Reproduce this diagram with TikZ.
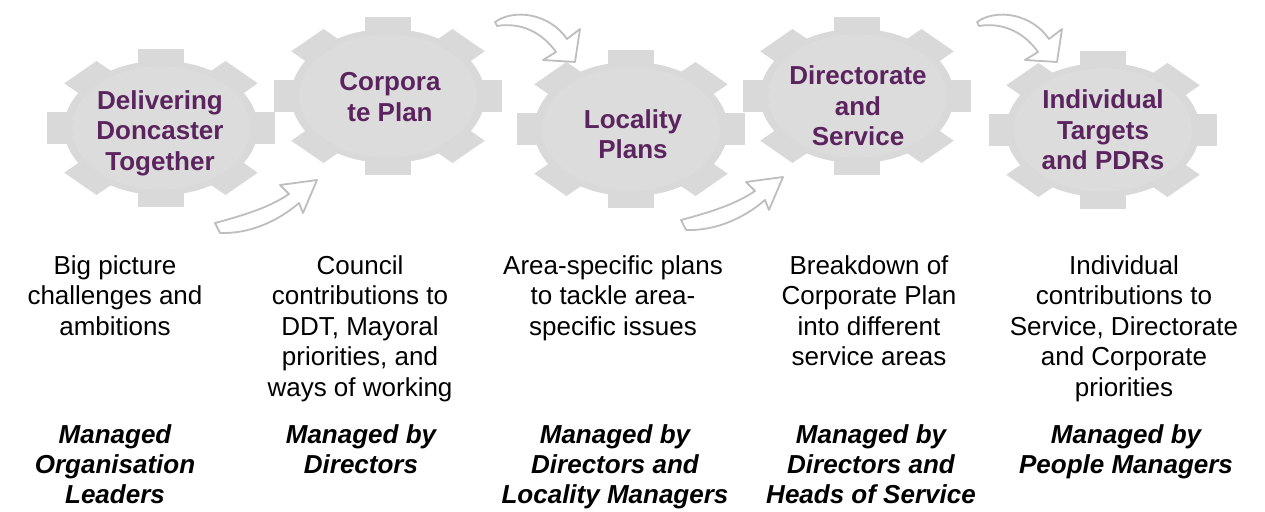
\documentclass[tikz,border=0pt]{standalone}
\usepackage{fontspec}
\setmainfont{Liberation Sans}
\definecolor{gearouter}{RGB}{217,217,217}
\definecolor{gearinner}{RGB}{220,220,220}
\definecolor{geartext}{RGB}{91,36,94}
\definecolor{arrowline}{RGB}{190,190,190}
\tikzset{
  gearlabel/.style={font=\bfseries\fontsize{26}{30.5}\selectfont, text=geartext, align=center, inner sep=0pt},
  desc/.style={font=\fontsize{26}{30.5}\selectfont, text=black, align=center, inner sep=0pt, anchor=north},
  mgr/.style={font=\bfseries\itshape\fontsize{26}{30}\selectfont, text=black, align=center, inner sep=0pt, anchor=north},
  curvearrow/.style={draw=arrowline, fill=white, line width=1.8pt, line join=round},
  pics/gear/.style={code={
    \fill[gearouter] (0,0) circle (0.85);
    \foreach \a in {0,45,...,315}{\fill[gearouter, rotate=\a] (-0.2,0) rectangle (0.2,1);}
    \fill[gearinner] (0,0) circle (0.78);
  }}
}
\begin{document}
\begin{tikzpicture}[x=1pt,y=-1pt]
\useasboundingbox[fill=white] (0,0) rectangle (1265,511);
% gears
\pic[xscale=114,yscale=79] at (161,128) {gear};
\pic[xscale=114,yscale=79] at (388,96) {gear};
\pic[xscale=114,yscale=79] at (631,129) {gear};
\pic[xscale=114,yscale=79] at (857,96) {gear};
\pic[xscale=114,yscale=79] at (1103,130) {gear};
% gear labels
\node[gearlabel] (g1) at (160,133) {Delivering\\Doncaster\\Together};
\node[gearlabel] (g2) at (390,97) {Corpora\\te Plan};
\node[gearlabel] (g3) at (633,134) {Locality\\Plans};
\node[gearlabel] (g4) at (858,106) {Directorate\\and\\Service};
\node[gearlabel] (g5) at (1103,130) {Individual\\Targets\\and PDRs};
% curved arrows
\foreach \dx/\dy in {0/0,466/-3}{
  \begin{scope}[shift={(\dx,\dy)}]
  \draw[curvearrow] (215,223) .. controls (245,215) and (270,207) .. (289,194)
    -- (280,185) -- (317,180) -- (303,213) -- (299,203)
    .. controls (278,221) and (250,234) .. (220,233) -- cycle;
  \end{scope}
}
\foreach \dx in {0,482}{
  \begin{scope}[shift={(\dx,0)}]
  \draw[curvearrow] (495,22) .. controls (515,8) and (550,14) .. (567,39)
    -- (580,29) -- (575,62) -- (543,60) -- (556,52)
    .. controls (542,32) and (520,22) .. (497,26) -- cycle;
  \end{scope}
}
% descriptions
\node[desc] (d1) at (115,255) {Big picture\\challenges and\\ambitions};
\node[desc] (d2) at (360,255) {Council\\contributions to\\DDT, Mayoral\\priorities, and\\ways of working};
\node[desc] (d3) at (613,255) {Area-specific plans\\to tackle area-\\specific issues};
\node[desc] (d4) at (869,255) {Breakdown of\\Corporate Plan\\into different\\service areas};
\node[desc] (d5) at (1124,255) {Individual\\contributions to\\Service, Directorate\\and Corporate\\priorities};
% managers
\node[mgr] (m1) at (115,424) {Managed\\Organisation\\Leaders};
\node[mgr] (m2) at (361,424) {Managed by\\Directors};
\node[mgr] (m3) at (615,424) {Managed by\\Directors and\\Locality Managers};
\node[mgr] (m4) at (871,424) {Managed by\\Directors and\\Heads of Service};
\node[mgr] (m5) at (1126,424) {Managed by\\People Managers};
\end{tikzpicture}
\end{document}
